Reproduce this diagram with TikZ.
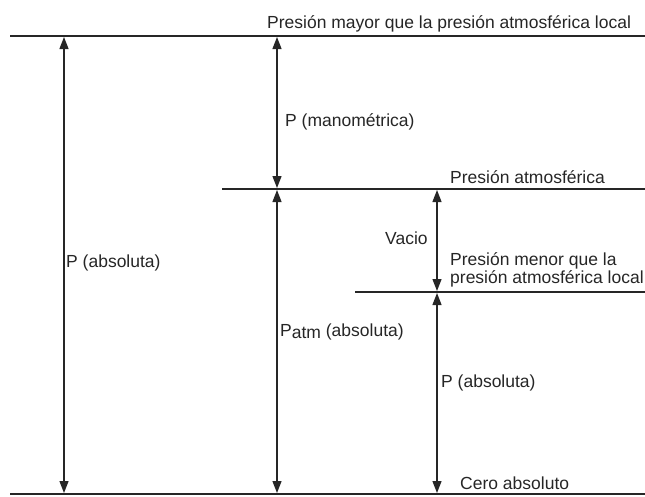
\documentclass[tikz,border=0pt]{standalone}
\usepackage{fontspec}
\setmainfont{Liberation Sans}
\usetikzlibrary{arrows.meta}
\tikzset{
  level/.style={line width=2.6pt, black!85},
  dim/.style={line width=1.3pt, black!85, {Triangle[width=9pt,length=12pt]}-{Triangle[width=9pt,length=12pt]}},
  lab/.style={anchor=base west, inner sep=0pt, text=black!85, font=\fontsize{17.5}{17}\selectfont}
}
\begin{document}
\begin{tikzpicture}[x=1pt,y=-1pt]
\useasboundingbox (0,0) rectangle (645,496);
% level lines
\coordinate (t0) at (10,36);   \coordinate (t1) at (645,36);
\coordinate (a0) at (222,189); \coordinate (a1) at (645,189);
\coordinate (v0) at (355,292); \coordinate (v1) at (645,292);
\coordinate (z0) at (10,494);  \coordinate (z1) at (645,494);
\draw[level] (t0) -- (t1);
\draw[level] (a0) -- (a1);
\draw[level] (v0) -- (v1);
\draw[level] (z0) -- (z1);
% arrow end points
\coordinate (p1t) at (64,37);   \coordinate (p1b) at (64,493);
\coordinate (mt) at (277,37);   \coordinate (mb) at (277,188);
\coordinate (at) at (277,190);  \coordinate (ab) at (277,493);
\coordinate (vt) at (437,190);  \coordinate (vb) at (437,291);
\coordinate (lt) at (437,293);  \coordinate (lb) at (437,493);
\draw[dim] (p1t) -- (p1b);
\draw[dim] (mt) -- (mb);
\draw[dim] (at) -- (ab);
\draw[dim] (vt) -- (vb);
\draw[dim] (lt) -- (lb);
% labels
\node[lab] (ltop) at (267,28) {Presión mayor que la presión atmosférica local};
\node[lab] (latm) at (450,183) {Presión atmosférica};
\node[lab] (lmen1) at (450,265.5) {Presión menor que la};
\node[lab] (lmen2) at (450,283.5) {presión atmosférica local};
\node[lab] (lcero) at (460,489) {Cero absoluto};
\node[lab] (lpabs) at (66,267) {P (absoluta)};
\node[lab] (lman) at (285,126) {P (manométrica)};
\node[lab] (lpatm) at (280,336) {P\raisebox{-2pt}{atm} (absoluta)};
\node[lab] (lvac) at (385,244) {Vacio};
\node[lab] (lpabs2) at (441,387) {P (absoluta)};
\end{tikzpicture}
\end{document}
